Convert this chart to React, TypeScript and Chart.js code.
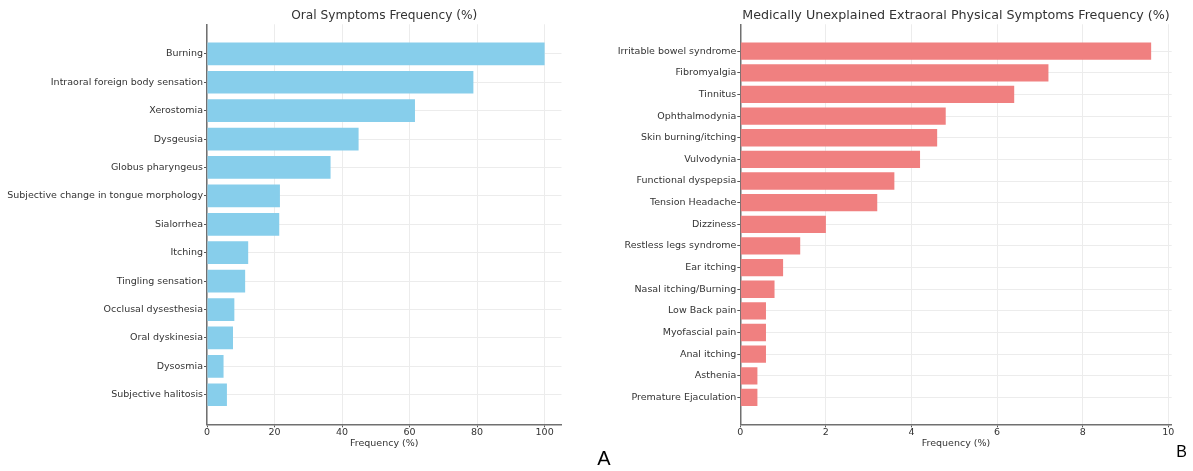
import React, { useEffect, useRef } from "react";
import { Chart, registerables } from "chart.js";

Chart.register(...registerables);

const oralLabels = [
  "Burning",
  "Intraoral foreign body sensation",
  "Xerostomia",
  "Dysgeusia",
  "Globus pharyngeus",
  "Subjective change in tongue morphology",
  "Sialorrhea",
  "Itching",
  "Tingling sensation",
  "Occlusal dysesthesia",
  "Oral dyskinesia",
  "Dysosmia",
  "Subjective halitosis",
];
const oralValues = [100, 78.9, 61.6, 44.9, 36.6, 21.6, 21.4, 12.2, 11.3, 8.1, 7.7, 4.9, 5.9];
const oralTicks = [0, 20, 40, 60, 80, 100];

const extraLabels = [
  "Irritable bowel syndrome",
  "Fibromyalgia",
  "Tinnitus",
  "Ophthalmodynia",
  "Skin burning/itching",
  "Vulvodynia",
  "Functional dyspepsia",
  "Tension Headache",
  "Dizziness",
  "Restless legs syndrome",
  "Ear itching",
  "Nasal itching/Burning",
  "Low Back pain",
  "Myofascial pain",
  "Anal itching",
  "Asthenia",
  "Premature Ejaculation",
];
const extraValues = [9.6, 7.2, 6.4, 4.8, 4.6, 4.2, 3.6, 3.2, 2.0, 1.4, 1.0, 0.8, 0.6, 0.6, 0.6, 0.4, 0.4];
const extraTicks = [0, 2, 4, 6, 8, 10];

const FONT = "'DejaVu Sans', sans-serif";
const TEXT = "#333333";

type PanelProps = {
  labels: string[];
  values: number[];
  ticks: number[];
  title: string;
  titleSize: number;
  color: string;
  left: number;
  width: number;
  axisLeft: number;
  plotRight: number;
};

function BarPanel(p: PanelProps) {
  const ref = useRef<HTMLCanvasElement | null>(null);
  useEffect(() => {
    if (!ref.current) return;
    const n = p.labels.length;
    const vmax = Math.max(...p.values);
    const span = n - 1 + 0.8;
    const titleLH = p.titleSize * 1.2;
    const chart = new Chart(ref.current, {
      type: "bar",
      data: {
        datasets: [
          {
            data: p.values.map((v, i) => ({ x: v, y: i })),
            backgroundColor: p.color,
            borderWidth: 0,
            categoryPercentage: 1,
            barPercentage: 0.8,
          } as any,
        ],
      },
      options: {
        indexAxis: "y",
        animation: false,
        responsive: false,
        devicePixelRatio: 1,
        layout: { padding: { left: 0, right: p.width - p.plotRight, top: 0, bottom: 22 } },
        plugins: {
          legend: { display: false },
          tooltip: { enabled: false },
          title: {
            display: true,
            text: p.title,
            fullSize: false,
            color: TEXT,
            font: { family: FONT, size: p.titleSize, weight: "normal" as any },
            padding: { top: 16 - titleLH / 2, bottom: 24.3 - 16 - titleLH / 2 },
          },
        },
        scales: {
          y: {
            type: "linear",
            reverse: true,
            offset: false,
            min: -0.4 - 0.05 * span,
            max: n - 1 + 0.4 + 0.05 * span,
            afterBuildTicks: (s: any) => {
              s.ticks = p.labels.map((_, i) => ({ value: i }));
            },
            afterFit: (s: any) => {
              s.width = p.axisLeft;
            },
            ticks: {
              autoSkip: false,
              padding: 1,
              color: TEXT,
              font: { family: FONT, size: 9.5 },
              callback: (_v: any, i: number) => p.labels[i],
            },
            grid: { offset: false, color: "#ececec", tickColor: "#555555", tickLength: 3, lineWidth: 1 },
            border: { color: "#707070", width: 1.5 },
          },
          x: {
            type: "linear",
            min: 0,
            max: vmax * 1.05,
            afterBuildTicks: (s: any) => {
              s.ticks = p.ticks.map((v) => ({ value: v }));
            },
            afterFit: (s: any) => {
              s.height = 24.7;
            },
            ticks: {
              padding: 0,
              color: TEXT,
              font: { family: FONT, size: 9.5 },
              maxRotation: 0,
              callback: (v: any) => String(v),
            },
            grid: { color: "#ececec", tickColor: "#555555", tickLength: 3, lineWidth: 1 },
            border: { color: "#707070", width: 1.5 },
            title: {
              display: true,
              text: "Frequency (%)",
              color: TEXT,
              font: { family: FONT, size: 9.5 },
              padding: 0,
            },
          },
        },
      } as any,
    });
    return () => chart.destroy();
  }, []);
  return (
    <canvas
      ref={ref}
      width={p.width}
      height={471}
      style={{ position: "absolute", left: p.left, top: 0, width: p.width, height: 471 }}
    />
  );
}

export default function App() {
  return (
    <div
      style={{
        position: "absolute",
        left: 0,
        top: 0,
        width: 1193,
        height: 471,
        background: "#ffffff",
        overflow: "hidden",
      }}
    >
      <BarPanel
        labels={oralLabels}
        values={oralValues}
        ticks={oralTicks}
        title="Oral Symptoms Frequency (%)"
        titleSize={12.2}
        color="#87CEEB"
        left={0}
        width={600}
        axisLeft={207}
        plotRight={561.5}
      />
      <BarPanel
        labels={extraLabels}
        values={extraValues}
        ticks={extraTicks}
        title="Medically Unexplained Extraoral Physical Symptoms Frequency (%)"
        titleSize={12.7}
        color="#F08080"
        left={600}
        width={593}
        axisLeft={140.3}
        plotRight={571.7}
      />
      <div
        style={{
          position: "absolute",
          left: 597.3,
          top: 448.2,
          fontFamily: "'Liberation Sans', Arial, sans-serif",
          fontSize: 20,
          lineHeight: 1,
          color: "#000",
        }}
      >
        A
      </div>
      <div
        style={{
          position: "absolute",
          left: 1176.2,
          top: 443.7,
          fontFamily: "'Liberation Sans', Arial, sans-serif",
          fontSize: 16,
          lineHeight: 1,
          color: "#000",
        }}
      >
        B
      </div>
    </div>
  );
}
